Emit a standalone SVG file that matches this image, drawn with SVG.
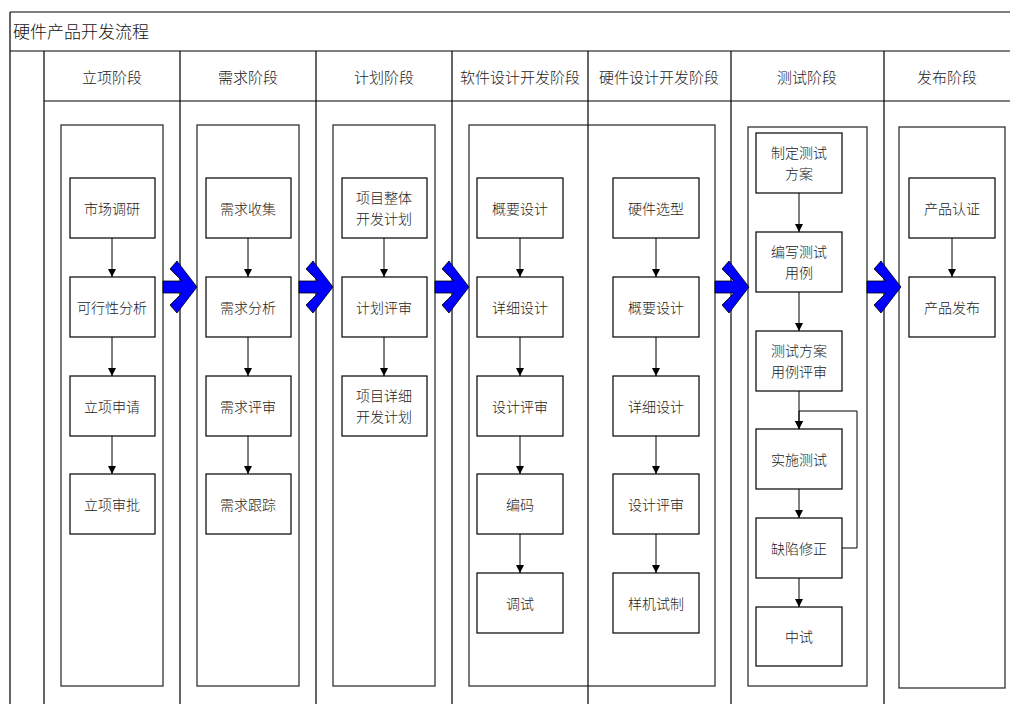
<svg xmlns="http://www.w3.org/2000/svg" width="1010" height="704" viewBox="0 0 1010 704">
<defs>
<style>
.frame{fill:none;stroke:#000;stroke-width:1.2}
.cont{fill:#fff;stroke:#333;stroke-width:1.3}
.box{fill:#fff;stroke:#000;stroke-width:1.2}
.t{font-family:"Noto Sans CJK SC","Noto Sans CJK JP",sans-serif;font-weight:300;font-size:14px;fill:#222;text-anchor:middle;dominant-baseline:central}
.h{font-size:15px}
.title{font-family:"Noto Sans CJK SC",sans-serif;font-weight:300;font-size:17px;fill:#111}
.conn{fill:none;stroke:#000;stroke-width:1}
.big{fill:#0000ff;stroke:#000;stroke-width:0.8}
</style>
<marker id="ah" viewBox="0 0 10 10" refX="10" refY="5" markerWidth="8" markerHeight="8" markerUnits="userSpaceOnUse" orient="auto">
<path d="M0,0 L10,5 L0,10 z" fill="#000"/>
</marker>
<polygon id="bigArrow" points="0,-6 19,-6 7,-18 14,-26 34,0 14,26 7,18 19,6 0,6"/>
</defs>
<rect width="1010" height="704" fill="#fff"/>
<g id="frame">
<path class="frame" d="M10,12 H1010 M10,12 V704 M10,51 H1010 M44,101 H1010 M44,51 V704 M180,51 V704 M316,51 V704 M452,51 V704 M588,51 V704 M731,51 V704 M884,51 V704"/>
<text class="title" x="13" y="38">硬件产品开发流程</text>
<text class="t h" x="112" y="76">立项阶段</text>
<text class="t h" x="248" y="76">需求阶段</text>
<text class="t h" x="384" y="76">计划阶段</text>
<text class="t h" x="520" y="76">软件设计开发阶段</text>
<text class="t h" x="659" y="76">硬件设计开发阶段</text>
<text class="t h" x="807" y="76">测试阶段</text>
<text class="t h" x="947" y="76">发布阶段</text>
</g>
<g id="containers">
<rect class="cont" x="61" y="125" width="102" height="561"/>
<rect class="cont" x="197" y="125" width="102" height="561"/>
<rect class="cont" x="333" y="125" width="102" height="561"/>
<rect class="cont" x="469" y="125" width="246" height="561"/>
<rect class="cont" x="748" y="127" width="119" height="559"/>
<rect class="cont" x="899" y="127" width="106" height="561"/>
<path class="frame" d="M588,125 V686"/>
</g>
<g id="connectors">
<path class="conn" marker-end="url(#ah)" d="M112,238 V277"/>
<path class="conn" marker-end="url(#ah)" d="M112,337 V376"/>
<path class="conn" marker-end="url(#ah)" d="M112,436 V474"/>
<path class="conn" marker-end="url(#ah)" d="M248,238 V277"/>
<path class="conn" marker-end="url(#ah)" d="M248,337 V376"/>
<path class="conn" marker-end="url(#ah)" d="M248,436 V474"/>
<path class="conn" marker-end="url(#ah)" d="M384,238 V277"/>
<path class="conn" marker-end="url(#ah)" d="M384,337 V376"/>
<path class="conn" marker-end="url(#ah)" d="M520,238 V277"/>
<path class="conn" marker-end="url(#ah)" d="M520,337 V376"/>
<path class="conn" marker-end="url(#ah)" d="M520,436 V474"/>
<path class="conn" marker-end="url(#ah)" d="M520,534 V573"/>
<path class="conn" marker-end="url(#ah)" d="M656,238 V277"/>
<path class="conn" marker-end="url(#ah)" d="M656,337 V376"/>
<path class="conn" marker-end="url(#ah)" d="M656,436 V474"/>
<path class="conn" marker-end="url(#ah)" d="M656,534 V573"/>
<path class="conn" marker-end="url(#ah)" d="M799,193 V232"/>
<path class="conn" marker-end="url(#ah)" d="M799,292 V331"/>
<path class="conn" marker-end="url(#ah)" d="M799,391 V429"/>
<path class="conn" marker-end="url(#ah)" d="M799,489 V518"/>
<path class="conn" marker-end="url(#ah)" d="M799,578 V607"/>
<path class="conn" marker-end="url(#ah)" d="M842,548 H857 V411 H799 V429"/>
<path class="conn" marker-end="url(#ah)" d="M952,238 V277"/>
<use href="#bigArrow" class="big" x="163" y="287"/>
<use href="#bigArrow" class="big" x="299" y="287"/>
<use href="#bigArrow" class="big" x="435" y="287"/>
<use href="#bigArrow" class="big" x="715" y="287"/>
<use href="#bigArrow" class="big" x="867" y="287"/>
</g>
<g id="n-shichang"><rect class="box" x="70" y="178" width="85" height="60"/><text class="t" x="112" y="208">市场调研</text></g>
<g id="n-kexing"><rect class="box" x="70" y="277" width="85" height="60"/><text class="t" x="112" y="307">可行性分析</text></g>
<g id="n-shenqing"><rect class="box" x="70" y="376" width="85" height="60"/><text class="t" x="112" y="406">立项申请</text></g>
<g id="n-shenpi"><rect class="box" x="70" y="474" width="85" height="60"/><text class="t" x="112" y="504">立项审批</text></g>
<g id="n-shouji"><rect class="box" x="206" y="178" width="85" height="60"/><text class="t" x="248" y="208">需求收集</text></g>
<g id="n-fenxi"><rect class="box" x="206" y="277" width="85" height="60"/><text class="t" x="248" y="307">需求分析</text></g>
<g id="n-xqpingshen"><rect class="box" x="206" y="376" width="85" height="60"/><text class="t" x="248" y="406">需求评审</text></g>
<g id="n-genzong"><rect class="box" x="206" y="474" width="85" height="60"/><text class="t" x="248" y="504">需求跟踪</text></g>
<g id="n-zhengti"><rect class="box" x="342" y="178" width="85" height="60"/><text class="t" x="384" y="197">项目整体</text><text class="t" x="384" y="218">开发计划</text></g>
<g id="n-jhpingshen"><rect class="box" x="342" y="277" width="85" height="60"/><text class="t" x="384" y="307">计划评审</text></g>
<g id="n-xiangxi"><rect class="box" x="342" y="376" width="85" height="60"/><text class="t" x="384" y="395">项目详细</text><text class="t" x="384" y="416">开发计划</text></g>
<g id="n-sw-gaiyao"><rect class="box" x="477" y="178" width="86" height="60"/><text class="t" x="520" y="208">概要设计</text></g>
<g id="n-sw-xiangxi"><rect class="box" x="477" y="277" width="86" height="60"/><text class="t" x="520" y="307">详细设计</text></g>
<g id="n-sw-pingshen"><rect class="box" x="477" y="376" width="86" height="60"/><text class="t" x="520" y="406">设计评审</text></g>
<g id="n-bianma"><rect class="box" x="477" y="474" width="86" height="60"/><text class="t" x="520" y="504">编码</text></g>
<g id="n-tiaoshi"><rect class="box" x="477" y="573" width="86" height="60"/><text class="t" x="520" y="603">调试</text></g>
<g id="n-xuanxing"><rect class="box" x="613" y="178" width="86" height="60"/><text class="t" x="656" y="208">硬件选型</text></g>
<g id="n-hw-gaiyao"><rect class="box" x="613" y="277" width="86" height="60"/><text class="t" x="656" y="307">概要设计</text></g>
<g id="n-hw-xiangxi"><rect class="box" x="613" y="376" width="86" height="60"/><text class="t" x="656" y="406">详细设计</text></g>
<g id="n-hw-pingshen"><rect class="box" x="613" y="474" width="86" height="60"/><text class="t" x="656" y="504">设计评审</text></g>
<g id="n-yangji"><rect class="box" x="613" y="573" width="86" height="60"/><text class="t" x="656" y="603">样机试制</text></g>
<g id="n-fangan"><rect class="box" x="756" y="133" width="86" height="60"/><text class="t" x="799" y="152">制定测试</text><text class="t" x="799" y="173">方案</text></g>
<g id="n-yongli"><rect class="box" x="756" y="232" width="86" height="60"/><text class="t" x="799" y="251">编写测试</text><text class="t" x="799" y="272">用例</text></g>
<g id="n-csps"><rect class="box" x="756" y="331" width="86" height="60"/><text class="t" x="799" y="350">测试方案</text><text class="t" x="799" y="371">用例评审</text></g>
<g id="n-shishi"><rect class="box" x="756" y="429" width="86" height="60"/><text class="t" x="799" y="459">实施测试</text></g>
<g id="n-xiuzheng"><rect class="box" x="756" y="518" width="86" height="60"/><text class="t" x="799" y="548">缺陷修正</text></g>
<g id="n-zhongshi"><rect class="box" x="756" y="607" width="86" height="59"/><text class="t" x="799" y="636">中试</text></g>
<g id="n-renzheng"><rect class="box" x="909" y="178" width="86" height="60"/><text class="t" x="952" y="208">产品认证</text></g>
<g id="n-fabu"><rect class="box" x="909" y="277" width="86" height="60"/><text class="t" x="952" y="307">产品发布</text></g>
</svg>
